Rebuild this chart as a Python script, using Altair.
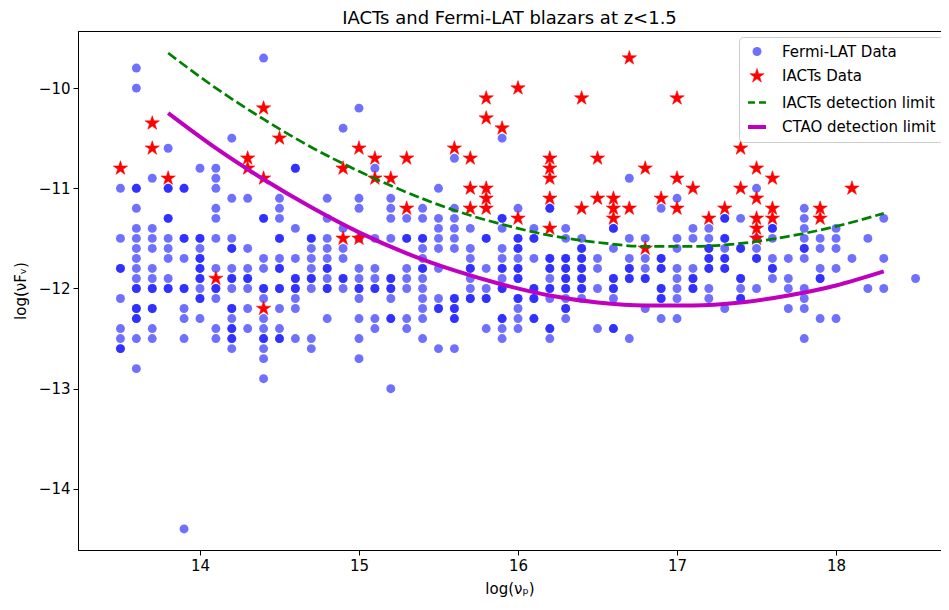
import altair as alt
import pandas as pd

# ---- Fermi-LAT blazars: columns of log(nu_p) and the log(nuF_nu) values in each column
fermi_nu = [13.5, 13.6, 13.7, 13.8, 13.9, 14.0, 14.1, 14.2, 14.3, 14.4, 14.5, 14.6, 14.7, 14.8,
            14.9, 15.0, 15.1, 15.2, 15.3, 15.4, 15.5, 15.6, 15.7, 15.8, 15.9, 16.0, 16.1, 16.2,
            16.3, 16.4, 16.5, 16.6, 16.7, 16.8, 16.9, 17.0, 17.1, 17.2, 17.3, 17.4, 17.5, 17.6,
            17.7, 17.8, 17.9, 18.0, 18.1, 18.2, 18.3, 18.5]
fermi_flux = [
    [-11.0, -11.5, -11.8, -11.8, -12.1, -12.4, -12.5, -12.6, -12.6],
    [-9.8, -10.0, -11.0, -11.0, -11.2, -11.4, -11.5, -11.6, -11.7, -11.8, -11.9, -12.0, -12.0, -12.2, -12.2, -12.3, -12.3, -12.5, -12.8],
    [-10.9, -11.4, -11.5, -11.6, -11.8, -11.9, -12.0, -12.0, -12.2, -12.2, -12.4, -12.5],
    [-10.6, -11.0, -11.0, -11.3, -11.3, -11.5, -11.6, -11.7, -11.9, -12.0, -12.0],
    [-11.0, -11.0, -11.5, -11.5, -11.7, -12.0, -12.0, -12.2, -12.3, -12.5, -14.4],
    [-10.8, -11.5, -11.5, -11.6, -11.7, -11.7, -11.8, -11.8, -11.9, -11.9, -12.0, -12.1, -12.1, -12.3],
    [-10.8, -10.9, -11.0, -11.2, -11.3, -11.5, -11.8, -12.0, -12.0, -12.1, -12.4, -12.5],
    [-10.5, -11.1, -11.5, -11.6, -11.6, -11.8, -11.9, -11.9, -12.0, -12.2, -12.2, -12.3, -12.4, -12.4, -12.5, -12.5, -12.6],
    [-11.1, -11.6, -11.8, -11.9, -11.9, -12.0, -12.2, -12.4],
    [-9.7, -11.3, -11.3, -11.7, -11.8, -12.0, -12.0, -12.1, -12.3, -12.4, -12.5, -12.5, -12.6, -12.7, -12.9],
    [-11.1, -11.2, -11.3, -11.5, -11.5, -11.7, -11.8, -11.8, -12.0, -12.0, -12.2, -12.4, -12.5, -12.5],
    [-10.8, -10.8, -11.4, -11.7, -11.9, -11.9, -12.0, -12.0, -12.1, -12.2, -12.5],
    [-11.5, -11.5, -11.6, -11.7, -11.8, -11.9, -11.9, -12.0, -12.5, -12.6],
    [-11.1, -11.3, -11.5, -11.6, -11.7, -11.8, -11.8, -11.9, -12.0, -12.0, -12.3],
    [-10.4, -11.4, -11.6, -11.7, -11.9, -11.9, -12.0],
    [-10.2, -11.1, -11.2, -11.5, -11.8, -11.9, -12.0, -12.0, -12.1, -12.3, -12.5, -12.7],
    [-10.8, -11.5, -11.8, -11.9, -12.0, -12.0, -12.3, -12.4],
    [-11.1, -11.2, -11.3, -11.5, -11.9, -11.9, -12.0, -12.0, -12.1, -12.3, -12.3, -13.0],
    [-11.3, -11.5, -11.5, -11.8, -11.9, -12.0, -12.3, -12.4],
    [-11.2, -11.3, -11.5, -11.5, -11.6, -11.7, -11.8, -11.8, -11.9, -12.0, -12.1, -12.2, -12.3, -12.5],
    [-11.0, -11.3, -11.4, -11.5, -11.6, -11.8, -12.1, -12.2, -12.2, -12.6],
    [-10.7, -11.2, -11.3, -11.4, -11.5, -11.6, -12.1, -12.1, -12.2, -12.2, -12.3, -12.3, -12.6],
    [-11.4, -11.6, -11.7, -11.8, -11.8, -11.9, -12.0, -12.1, -12.1],
    [-11.5, -11.5, -11.8, -12.0, -12.1, -12.1, -12.4],
    [-10.5, -11.3, -11.3, -11.4, -11.6, -11.7, -11.8, -11.8, -11.9, -12.0, -12.0, -12.3, -12.3, -12.4, -12.5],
    [-11.2, -11.5, -11.5, -11.6, -11.6, -11.7, -11.8, -11.8, -11.9, -11.9, -12.1, -12.1, -12.2, -12.3, -12.4],
    [-11.4, -11.5, -11.5, -11.7, -12.0, -12.0, -12.1, -12.1, -12.3, -12.3],
    [-11.2, -11.2, -11.7, -11.7, -11.8, -11.8, -11.9, -12.0, -12.0, -12.1, -12.4, -12.4, -12.5],
    [-11.4, -11.5, -11.7, -11.7, -11.8, -11.8, -11.9, -11.9, -12.0, -12.0, -12.1, -12.2, -12.2, -12.3],
    [-11.5, -11.6, -11.6, -11.7, -11.7, -11.8, -11.8, -11.9, -11.9, -12.0, -12.0, -12.1],
    [-11.7, -11.8, -12.0, -12.4],
    [-11.4, -11.4, -11.6, -11.9, -11.9, -12.0, -12.0, -12.1, -12.4, -12.4],
    [-10.9, -11.5, -11.7, -11.8, -11.8, -11.9, -11.9, -12.5],
    [-11.5, -11.7, -11.8, -11.9, -11.9, -12.2],
    [-11.2, -11.7, -11.7, -11.8, -11.8, -12.0, -12.0, -12.1, -12.1, -12.3],
    [-11.1, -11.5, -11.6, -11.8, -11.9, -12.0, -12.1, -12.3],
    [-11.4, -11.5, -11.8, -11.9, -11.9, -12.0, -12.0],
    [-11.4, -11.5, -11.6, -11.6, -11.7, -11.7, -11.8, -11.8, -12.0, -12.1],
    [-11.3, -11.3, -11.5, -11.5, -11.6, -11.7, -11.7, -11.8, -11.8, -12.2],
    [-11.3, -11.6, -11.6, -11.9, -11.9, -12.0, -12.1, -12.1],
    [-11.0, -11.5, -11.6, -11.7, -11.7, -12.0],
    [-11.4, -11.4, -11.5, -11.7, -11.8, -11.8, -11.9],
    [-11.7, -11.9, -12.0, -12.2],
    [-11.2, -11.3, -11.4, -11.5, -11.6, -11.6, -11.7, -12.0, -12.1, -12.2, -12.5],
    [-11.5, -11.6, -11.8, -11.9, -11.9, -12.3],
    [-11.4, -11.5, -11.6, -11.8, -12.3],
    [-11.7],
    [-11.5, -12.0],
    [-11.3, -11.7, -12.0],
    [-11.9],
]

# ---- IACT-detected blazars
iact_nu = [13.5, 13.7, 13.7, 13.8, 14.1, 14.3, 14.3, 14.4, 14.4, 14.4, 14.5, 14.9, 14.9, 15.0,
           15.0, 15.1, 15.1, 15.2, 15.3, 15.3, 15.6, 15.7, 15.7, 15.7, 15.8, 15.8, 15.8, 15.8,
           15.8, 15.9, 16.0, 16.0, 16.2, 16.2, 16.2, 16.2, 16.2, 16.4, 16.4, 16.5, 16.5, 16.6,
           16.6, 16.6, 16.7, 16.7, 16.8, 16.8, 16.9, 17.0, 17.0, 17.0, 17.1, 17.2, 17.3, 17.4,
           17.4, 17.5, 17.5, 17.5, 17.5, 17.5, 17.6, 17.6, 17.6, 17.9, 17.9, 18.1]
iact_flux = [-10.8, -10.35, -10.6, -10.9, -11.9, -10.7, -10.8, -10.2, -10.9, -12.2, -10.5, -10.8,
             -11.5, -10.6, -11.5, -10.7, -10.9, -10.9, -10.7, -11.2, -10.6, -10.7, -11.0, -11.2,
             -10.1, -10.3, -11.0, -11.1, -11.2, -10.4, -10.0, -11.3, -10.7, -10.8, -10.9, -11.1,
             -11.4, -10.1, -11.2, -10.7, -11.1, -11.1, -11.2, -11.3, -9.7, -11.2, -10.8, -11.6,
             -11.1, -10.1, -10.9, -11.2, -11.0, -11.3, -11.2, -10.6, -11.0, -10.8, -11.1, -11.3,
             -11.4, -11.5, -10.9, -11.2, -11.3, -11.2, -11.3, -11.0]

# ---- detection-limit curves
curve_nu = [13.8, 14.1, 14.4, 14.7, 15.0, 15.3, 15.6, 15.9, 16.2, 16.5, 16.8, 17.1, 17.4, 17.7, 18.0, 18.3]
iacts_limit = [-9.65, -10.00, -10.31, -10.59, -10.83, -11.04, -11.22, -11.36, -11.47, -11.54,
               -11.58, -11.58, -11.55, -11.48, -11.38, -11.25]
ctao_limit = [-10.25, -10.60, -10.91, -11.19, -11.44, -11.65, -11.82, -11.96, -12.07, -12.14,
              -12.17, -12.17, -12.14, -12.07, -11.97, -11.83]

SERIES = ["Fermi-LAT Data", "IACTs Data", "IACTs detection limit", "CTAO detection limit"]
STAR = ("M0,-1L0.2245,-0.309L0.9511,-0.309L0.3633,0.118L0.5878,0.809L0,0.382"
        "L-0.5878,0.809L-0.3633,0.118L-0.9511,-0.309L-0.2245,-0.309Z")

rows = []
for nu, col in zip(fermi_nu, fermi_flux):
    for f in col:
        rows.append({"nu": nu, "flux": f, "series": SERIES[0]})
for nu, f in zip(iact_nu, iact_flux):
    rows.append({"nu": nu, "flux": f, "series": SERIES[1]})
points = pd.DataFrame(rows)
curves = pd.DataFrame({"nu": curve_nu, "iacts": iacts_limit, "ctao": ctao_limit})

FONT = "DejaVu Sans"
xscale = alt.Scale(domain=[13.233, 18.66], nice=False, zero=False)
yscale = alt.Scale(domain=[-14.61, -9.43], nice=False, zero=False)
axis_common = dict(grid=False, tickSize=5, labelPadding=3, domainColor="black", tickColor="black",
                   labelColor="black", titleColor="black", labelFont=FONT, titleFont=FONT,
                   labelFontSize=15, titleFontSize=15, titleFontWeight="normal", format="d")
xaxis = alt.Axis(values=[14, 15, 16, 17, 18], title="log(νₚ)", titlePadding=8, **axis_common)
yaxis = alt.Axis(values=[-14, -13, -12, -11, -10], title="log(νFᵥ)", titlePadding=10, **axis_common)

legend = alt.Legend(title=None, orient="none", legendX=661, legendY=6, gridAlign="all")

def sc(rng, **kw):
    return alt.Scale(domain=SERIES, range=rng, **kw)

pts = alt.Chart(points).mark_point(opacity=1, filled=True).encode(
    x=alt.X("nu:Q", scale=xscale, axis=xaxis),
    y=alt.Y("flux:Q", scale=yscale, axis=yaxis),
    shape=alt.Shape("series:N", scale=sc(["circle", STAR, "stroke", "stroke"]), legend=legend),
    fill=alt.Fill("series:N", scale=sc(["rgba(0,0,255,0.56)", "red", "transparent", "transparent"]), legend=legend),
    stroke=alt.Stroke("series:N", scale=sc(["transparent", "red", "green", "#bf00bf"]), legend=legend),
    strokeDash=alt.StrokeDash("series:N", scale=sc([[1, 0], [1, 0], [7, 4], [1, 0]]), legend=legend),
    size=alt.Size("series:N", scale=sc([80, 225, 324, 324], type="ordinal"), legend=legend),
    strokeWidth=alt.StrokeWidth("series:N", scale=sc([0, 0.6, 2.7, 4], type="ordinal"), legend=legend),
    order=alt.Order("series:N", sort="ascending"),
)

green = alt.Chart(curves).mark_line(color="green", strokeDash=[10, 4], strokeWidth=2.7,
                                    interpolate="monotone").encode(
    x=alt.X("nu:Q", scale=xscale), y=alt.Y("iacts:Q", scale=yscale))
magenta = alt.Chart(curves).mark_line(color="#bf00bf", strokeWidth=4,
                                      interpolate="monotone").encode(
    x=alt.X("nu:Q", scale=xscale), y=alt.Y("ctao:Q", scale=yscale))

chart = alt.layer(pts, green, magenta).properties(
    width=863, height=519,
    title=alt.TitleParams("IACTs and Fermi-LAT blazars at z<1.5", fontSize=18, font=FONT,
                          fontWeight="normal", color="black", anchor="middle", offset=3),
    autosize=alt.AutoSizeParams(type="none"),
    padding={"left": 70, "top": 23, "right": 0, "bottom": 50},
).configure_view(stroke="black", strokeWidth=1).configure_legend(
    labelFont=FONT, labelFontSize=15, labelColor="black", padding=7, rowPadding=4,
    labelOffset=14, strokeColor="#cccccc", fillColor="white", cornerRadius=4,
)

chart.save("out.html", embed_options={"renderer": "svg", "actions": False})
